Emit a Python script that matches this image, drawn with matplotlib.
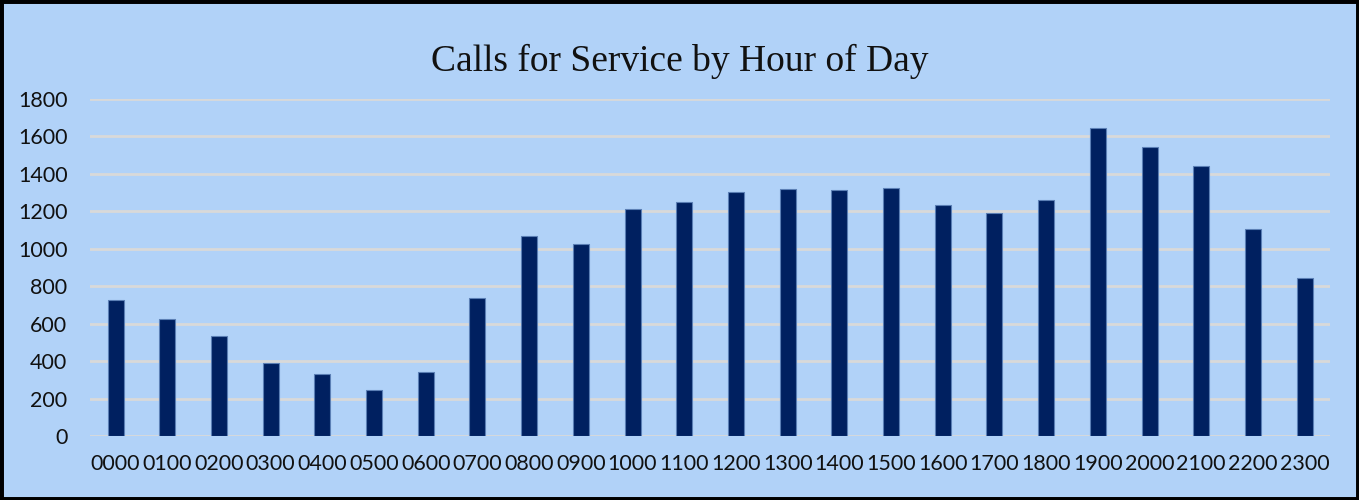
import numpy as np
import matplotlib
matplotlib.use("Agg")
import matplotlib.pyplot as plt
from matplotlib.patches import Rectangle

hours = ["0000", "0100", "0200", "0300", "0400", "0500", "0600", "0700",
         "0800", "0900", "1000", "1100", "1200", "1300", "1400", "1500",
         "1600", "1700", "1800", "1900", "2000", "2100", "2200", "2300"]
calls = [728, 625, 534, 390, 332, 246, 342, 735,
         1068, 1024, 1213, 1251, 1303, 1318, 1316, 1324,
         1234, 1192, 1262, 1647, 1544, 1441, 1104, 845]

bg = "#B1D2F8"

fig = plt.figure(figsize=(13.59, 5.0), dpi=100, facecolor=bg)
ax = fig.add_axes([0.066, 0.128, 0.913, 0.674])
ax.set_facecolor(bg)

x = np.arange(len(hours))
ax.bar(x, calls, width=0.31, color="#002060", edgecolor="#5B7FB5", linewidth=0.8, zorder=3)

ax.set_ylim(0, 1800)
ax.set_xlim(-0.5, len(hours) - 0.5)
ax.set_yticks(np.arange(0, 1801, 200))
ax.set_xticks(x)
ax.set_xticklabels(hours)
ax.yaxis.grid(True, color="#D9D9D9", linewidth=2, zorder=0)
ax.set_axisbelow(True)
for s in ax.spines.values():
    s.set_visible(False)
ax.tick_params(length=0, labelsize=15.5, colors="#111111")
ax.tick_params(axis="y", pad=16)
ax.tick_params(axis="x", pad=13)
for lab in ax.get_xticklabels() + ax.get_yticklabels():
    lab.set_family("Lato")

fig.text(0.5, 0.878, "Calls for Service by Hour of Day", ha="center", va="center",
         fontsize=27, family="Liberation Serif", color="#111111")

fig.patches.append(Rectangle((0, 0), 1, 1, transform=fig.transFigure, fill=False,
                             edgecolor="#000000", linewidth=5))

fig.savefig("out.png", dpi=100, facecolor=bg)
